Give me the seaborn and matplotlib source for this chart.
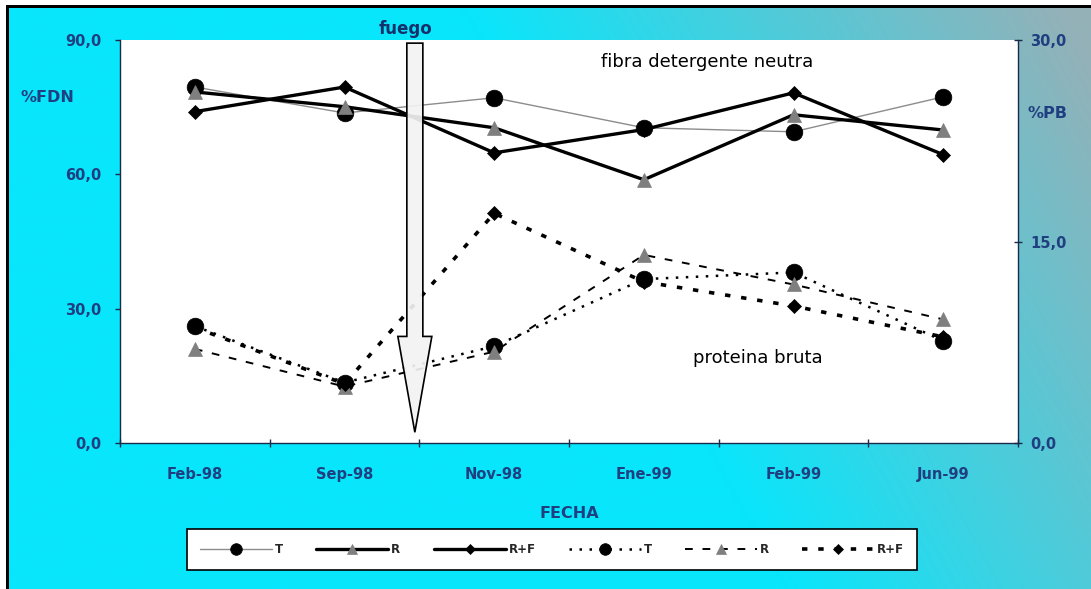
import numpy as np
import pandas as pd
import matplotlib
matplotlib.use("Agg")
import matplotlib.pyplot as plt
import seaborn as sns
from matplotlib.patches import Rectangle, FancyArrow

# ---------------- data ----------------
FECHAS = ["Feb-98", "Sep-98", "Nov-98", "Ene-99", "Feb-99", "Jun-99"]
FDN_T = [79.5, 73.7, 77.1, 70.4, 69.5, 77.3]
FDN_R = [78.4, 75.1, 70.4, 58.8, 73.3, 69.9]
FDN_RF = [74.0, 79.5, 64.8, 70.0, 78.2, 64.4]
PB_T = [8.7, 4.5, 7.2, 12.2, 12.7, 7.6]
PB_R = [7.0, 4.2, 6.8, 14.0, 11.8, 9.2]
PB_RF = [8.6, 4.4, 17.1, 12.0, 10.2, 7.9]
SERIES = ["T", "R", "R+F"]
LEFT_TICKS = [0, 30, 60, 90]
RIGHT_TICKS = [0, 15, 30]

NAVY = "#1f3f80"
W, H = 1091, 589

sns.set_style("ticks")
plt.rcParams["font.family"] = ["DejaVu Sans"]

fig = plt.figure(figsize=(W / 100, H / 100), dpi=100)

# ---------------- background (gradient frame) ----------------
bg = fig.add_axes([0, 0, 1, 1], zorder=-10)
bg.set_xlim(0, W)
bg.set_ylim(H, 0)
bg.axis("off")
xx, yy = np.meshgrid(np.linspace(0, 1, 400), np.linspace(1, 0, 220))
s = xx + 0.3 * yy
t = np.clip((s - 0.72) / 0.55, 0, 1)[..., None]
c0 = np.array([8, 230, 252]) / 255.0
c1 = np.array([148, 177, 184]) / 255.0
img = c0 + t * (c1 - c0)
bg.imshow(img, extent=[0, W, H, 0], aspect="auto", interpolation="bilinear")
bg.add_patch(Rectangle((0, 0), W, 5, color="white", lw=0))
bg.add_patch(Rectangle((0, 0), 6, H, color="white", lw=0))
bg.add_patch(Rectangle((6, 5), W, 3, color="black", lw=0))
bg.add_patch(Rectangle((6, 5), 3, H, color="black", lw=0))

# ---------------- main axes ----------------
ax = fig.add_axes([120 / W, 1 - 443 / H, 898 / W, 403 / H])
ax.set_facecolor("white")
ax2 = ax.twinx()

X_POS = np.arange(len(FECHAS))
df = pd.DataFrame({"x": X_POS, "FDN_T": FDN_T, "FDN_R": FDN_R, "FDN_RF": FDN_RF,
                   "PB_T": PB_T, "PB_R": PB_R, "PB_RF": PB_RF})

common = dict(data=df, x="x", legend=False, errorbar=None, sort=False)

sns.lineplot(**common, y="FDN_T", ax=ax, label=SERIES[0], color="#8c8c8c", lw=1.0,
             marker="o", markersize=12, markerfacecolor="black", markeredgecolor="black",
             markeredgewidth=0.5)
sns.lineplot(**common, y="FDN_R", ax=ax, label=SERIES[1], color="black", lw=2.4,
             marker="^", markersize=10, markerfacecolor="#7f7f7f", markeredgecolor="#7f7f7f",
             markeredgewidth=0.5)
sns.lineplot(**common, y="FDN_RF", ax=ax, label=SERIES[2], color="black", lw=2.4,
             marker="D", markersize=7.5, markerfacecolor="black", markeredgecolor="black",
             markeredgewidth=0.5)

sns.lineplot(**common, y="PB_T", ax=ax2, label=SERIES[0], color="black", lw=1.8,
             linestyle=(0, (1, 3)), marker="o", markersize=12, markerfacecolor="black",
             markeredgecolor="black", markeredgewidth=0.5)
sns.lineplot(**common, y="PB_R", ax=ax2, label=SERIES[1], color="black", lw=1.4,
             linestyle=(0, (4, 5)), marker="^", markersize=10, markerfacecolor="#7f7f7f",
             markeredgecolor="#7f7f7f", markeredgewidth=0.5)
sns.lineplot(**common, y="PB_RF", ax=ax2, label=SERIES[2], color="black", lw=2.6,
             linestyle=(0, (1.5, 3)), marker="D", markersize=7.5, markerfacecolor="black",
             markeredgecolor="black", markeredgewidth=0.5)

# ---------------- axes formatting ----------------
ax.set_xlim(-0.5, len(FECHAS) - 0.5)
ax.set_ylim(0, 90)
ax2.set_ylim(0, 30)

ax.set_xticks(np.arange(-0.5, len(FECHAS), 1.0))
ax.set_xticklabels([])
ax.set_xticks(X_POS, minor=True)
ax.set_xticklabels(FECHAS, minor=True)
ax.tick_params(axis="x", which="major", direction="inout", length=6, width=1, color="#1a2a4a")
ax.tick_params(axis="x", which="minor", length=0, pad=17, labelsize=10.5, labelcolor=NAVY)
for lab in ax.get_xticklabels(minor=True):
    lab.set_fontweight("bold")

ax.set_yticks(LEFT_TICKS)
ax.set_yticklabels([f"{v:.1f}".replace(".", ",") for v in LEFT_TICKS])
ax.tick_params(axis="y", direction="out", length=3.5, width=1, color="#1a2a4a", pad=10,
               labelsize=10.5, labelcolor=NAVY)
ax2.set_yticks(RIGHT_TICKS)
ax2.set_yticklabels([f"{v:.1f}".replace(".", ",") for v in RIGHT_TICKS])
ax2.tick_params(axis="y", direction="inout", length=6, width=1, color="#1a2a4a", pad=6,
                labelsize=10.5, labelcolor=NAVY)
for lab in ax.get_yticklabels() + ax2.get_yticklabels():
    lab.set_fontweight("bold")

for a in (ax, ax2):
    for sp in a.spines.values():
        sp.set_visible(False)
ax.spines["left"].set_visible(True)
ax.spines["bottom"].set_visible(True)
ax2.spines["right"].set_visible(True)
for sp in (ax.spines["left"], ax.spines["bottom"], ax2.spines["right"]):
    sp.set_color("#1a2a4a")
    sp.set_linewidth(1.0)

ax.set_xlabel("FECHA", fontsize=11.5, fontweight="bold", color=NAVY, va="center")
ax.xaxis.set_label_coords(0.5, (443 - 514) / 403)
ax.set_ylabel("%FDN", rotation=0, fontsize=11.5, fontweight="bold", color=NAVY,
              ha="center", va="center")
ax.yaxis.set_label_coords((47 - 120) / 898, (443 - 97) / 403)
ax2.set_ylabel("%PB", rotation=0, fontsize=11.5, fontweight="bold", color=NAVY,
               ha="center", va="center")
ax2.yaxis.set_label_coords((1047 - 120) / 898, (443 - 114) / 403)

# ---------------- annotations ----------------
ax.text((707 - 120) / 898, (443 - 62) / 403, "fibra detergente neutra", transform=ax.transAxes,
        ha="center", va="center", fontsize=13, color="black")
ax.text((758 - 120) / 898, (443 - 358) / 403, "proteina bruta", transform=ax.transAxes,
        ha="center", va="center", fontsize=13, color="black")
ax.text((405 - 120) / 898, (443 - 29) / 403, "fuego", transform=ax.transAxes,
        ha="center", va="center", fontsize=12, fontweight="bold", color="#15306a")

ARROW_X, ARROW_TOP, ARROW_TIP, HEAD_BASE = 1.47, 89.3, 2.4, 23.8
arrow = FancyArrow(ARROW_X, ARROW_TOP, 0, ARROW_TIP - ARROW_TOP, width=0.107,
                   head_width=0.227, head_length=HEAD_BASE - ARROW_TIP,
                   length_includes_head=True, transform=ax.transData,
                   facecolor=(0.95, 0.95, 0.95, 0.92), edgecolor="black", lw=1.2, zorder=10)
ax2.add_patch(arrow)
ax2.set_ylim(0, 30)
ax.set_xlim(-0.5, len(FECHAS) - 0.5)

# ---------------- legend ----------------
handles = list(ax.get_lines()) + list(ax2.get_lines())
labels = SERIES + SERIES
leg = fig.legend(handles, labels, loc="center", bbox_to_anchor=(552 / W, 1 - 549.5 / H),
                 ncol=6, frameon=True, fancybox=False, edgecolor="black", facecolor="white",
                 handlelength=6.1, handletextpad=0.25, columnspacing=2.8, borderpad=1.15,
                 prop=dict(weight="bold", size=8.5), markerscale=0.7, framealpha=1)
leg.get_frame().set_linewidth(1.2)

fig.savefig("out.png", dpi=100)
